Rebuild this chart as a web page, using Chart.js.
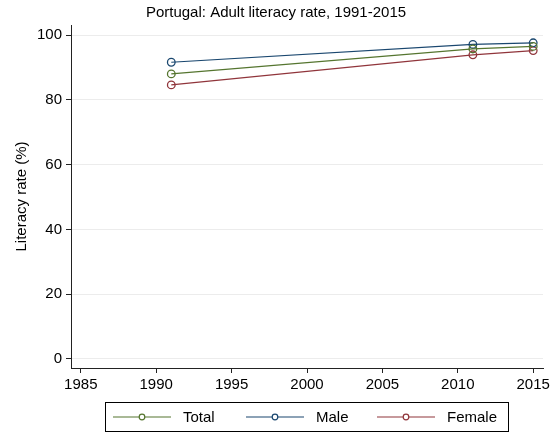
<!DOCTYPE html>
<html>
<head>
<meta charset="utf-8">
<script src="https://cdn.jsdelivr.net/npm/chart.js@4.4.1/dist/chart.umd.min.js"></script>
<style>
  html, body { margin: 0; padding: 0; background: #fff; }
  #wrap { width: 557px; height: 433px; }
</style>
</head>
<body>
<div id="wrap"><canvas id="literacyChart" width="557" height="433"></canvas></div>
<script>
// data
const years = [1991, 2011, 2015];
const totalRate = [88.0, 95.7, 96.5];
const maleRate = [91.6, 97.1, 97.6];
const femaleRate = [84.6, 93.9, 95.2];
const seriesNames = ['Total', 'Male', 'Female'];
const xTicks = [1985, 1990, 1995, 2000, 2005, 2010, 2015];
const yTicks = [0, 20, 40, 60, 80, 100];

const chartTitle = 'Portugal: Adult literacy rate, 1991-2015';
const FONT = '"Liberation Sans", Arial, sans-serif';
const colors = ['#55752f', '#1a476f', '#90353b'];

function toPoints(values) {
    return years.map((yr, i) => ({ x: yr, y: values[i] }));
}

const datasets = [totalRate, maleRate, femaleRate].map((vals, i) => ({
    label: seriesNames[i],
    data: toPoints(vals),
    borderColor: colors[i],
    backgroundColor: 'rgba(0,0,0,0)',
    borderWidth: 1.2,
    pointRadius: 3.8,
    pointBorderWidth: 1.3,
    pointBackgroundColor: 'rgba(0,0,0,0)',
    pointBorderColor: colors[i],
    tension: 0
}));

// title + stata style legend box
const stataDecor = {
    id: 'stataDecor',
    afterDraw(chart) {
        const ctx = chart.ctx;
        ctx.save();
        ctx.fillStyle = '#000';
        ctx.font = '15px ' + FONT;
        ctx.textAlign = 'center';
        ctx.textBaseline = 'middle';
        ctx.fillText(chartTitle, 276, 13);

        // legend
        const boxL = 105, boxT = 402, boxW = 403, boxH = 29;
        ctx.strokeStyle = '#000';
        ctx.lineWidth = 1;
        ctx.strokeRect(boxL + 0.5, boxT + 0.5, boxW, boxH);
        const cy = boxT + boxH / 2 + 0.5;
        const starts = [113, 246, 377];
        ctx.textAlign = 'left';
        ctx.font = '15px ' + FONT;
        chart.data.datasets.forEach((ds, i) => {
            const x0 = starts[i];
            ctx.strokeStyle = ds.borderColor;
            ctx.lineWidth = 1.2;
            ctx.beginPath();
            ctx.moveTo(x0, cy);
            ctx.lineTo(x0 + 58, cy);
            ctx.stroke();
            ctx.beginPath();
            ctx.fillStyle = '#fff';
            ctx.arc(x0 + 29, cy, 2.8, 0, Math.PI * 2);
            ctx.fill();
            ctx.stroke();
            ctx.fillStyle = '#000';
            ctx.fillText(ds.label, x0 + 70, cy + 1);
        });
        ctx.restore();
    }
};

new Chart(document.getElementById('literacyChart'), {
    type: 'line',
    data: { datasets },
    plugins: [stataDecor],
    options: {
        responsive: false,
        animation: false,
        devicePixelRatio: 1,
        layout: { padding: { left: 0, right: 14, top: 25, bottom: 35 } },
        plugins: {
            legend: { display: false },
            title: { display: false },
            tooltip: { enabled: false }
        },
        scales: {
            x: {
                type: 'linear',
                min: 1984.35,
                max: 2015.65,
                afterBuildTicks: axis => { axis.ticks = xTicks.map(v => ({ value: v })); },
                afterFit: axis => { axis.height = 30; },
                grid: { drawOnChartArea: false, tickColor: '#222', tickLength: 5 },
                border: { color: '#222', width: 1 },
                ticks: {
                    color: '#000',
                    font: { family: FONT, size: 15 },
                    padding: 3,
                    maxRotation: 0,
                    callback: v => String(v)
                }
            },
            y: {
                min: -2.8,
                max: 103.1,
                afterBuildTicks: axis => { axis.ticks = yTicks.map(v => ({ value: v })); },
                afterFit: axis => { axis.width = 71; },
                grid: { color: '#ececec', tickColor: '#222', tickLength: 5 },
                border: { color: '#222', width: 1 },
                title: {
                    display: true,
                    text: 'Literacy rate (%)',
                    color: '#000',
                    font: { family: FONT, size: 15 },
                    padding: { top: 13, bottom: 0 }
                },
                ticks: {
                    color: '#000',
                    font: { family: FONT, size: 15 },
                    padding: 4
                }
            }
        }
    }
});
</script>
</body>
</html>
